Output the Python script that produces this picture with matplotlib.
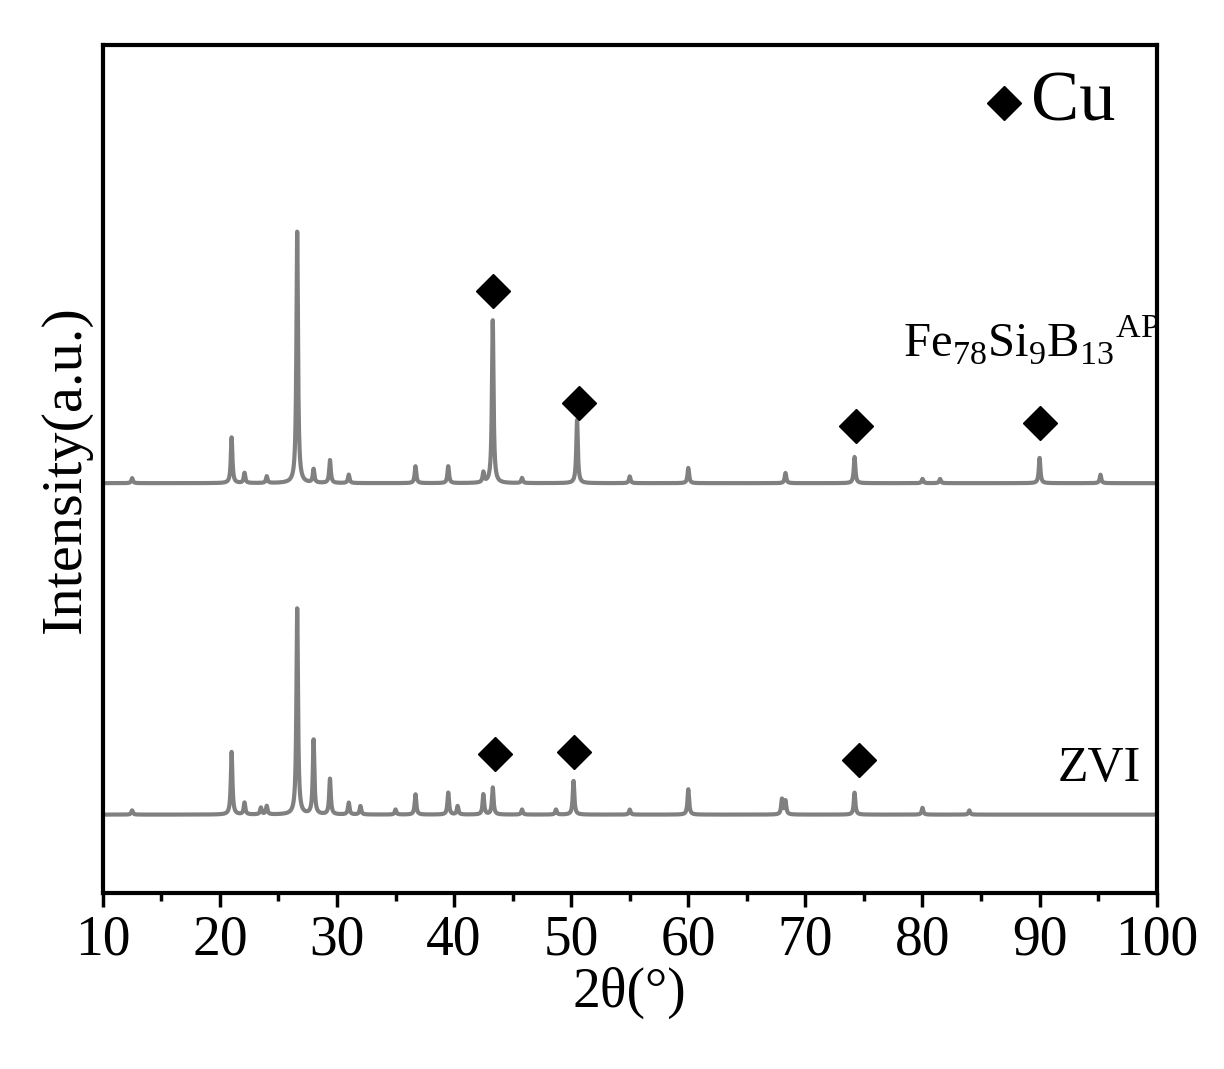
import numpy as np
import matplotlib.pyplot as plt
from matplotlib.ticker import MultipleLocator

plt.rcParams['font.family'] = ['Liberation Serif', 'DejaVu Serif']
plt.rcParams['mathtext.fontset'] = 'custom'
plt.rcParams['mathtext.rm'] = 'Liberation Serif'

# peak positions (2theta) and heights
ap_pos = [12.5, 21.0, 22.1, 24.0, 26.6, 28.0, 29.4, 31.0, 36.7, 39.5, 42.5, 43.3, 45.8,
          50.5, 55.0, 60.0, 68.3, 74.2, 80.0, 81.5, 90.0, 95.2]
ap_hgt = [0.6, 5.4, 1.2, 0.8, 29.9, 1.6, 2.7, 1.0, 2.0, 2.0, 1.2, 19.3, 0.6,
          7.5, 0.8, 1.8, 1.2, 3.1, 0.5, 0.5, 3.0, 1.0]
ap_base = 48.3

zvi_pos = [12.5, 21.0, 22.1, 23.5, 24.0, 26.6, 28.0, 29.4, 31.0, 32.0, 35.0, 36.7, 39.5,
           40.3, 42.5, 43.3, 45.8, 48.7, 50.2, 55.0, 60.0, 68.0, 68.3, 74.2, 80.0, 84.0]
zvi_hgt = [0.5, 7.4, 1.4, 0.8, 1.0, 24.5, 8.8, 4.2, 1.4, 1.0, 0.6, 2.4, 2.6,
           1.0, 2.4, 3.2, 0.6, 0.6, 4.0, 0.6, 3.0, 1.8, 1.6, 2.6, 0.8, 0.5]
zvi_base = 9.2

ap_cu = [(43.3, 71.0), (50.7, 57.7), (74.3, 55.0), (90.0, 55.4)]
zvi_cu = [(43.5, 16.3), (50.2, 16.6), (74.6, 15.7)]

theta = np.linspace(10, 100, 6000)


def pattern(pos, hgt, base):
    y = np.full_like(theta, base)
    for p, h in zip(pos, hgt):
        y += h / (1 + ((theta - p) / 0.08) ** 2)
    return y


fig = plt.figure(figsize=(12.24, 10.69), dpi=100)
ax = fig.add_axes([0.084, 0.165, 0.861, 0.793])

ax.plot(theta, pattern(ap_pos, ap_hgt, ap_base), color='#808080', lw=3)
ax.plot(theta, pattern(zvi_pos, zvi_hgt, zvi_base), color='#808080', lw=3)

for x, y in ap_cu + zvi_cu:
    ax.plot(x, y, marker='D', color='black', ms=17, ls='none')

ax.plot(87.0, 93.2, marker='D', color='black', ms=17)
ax.text(89.3, 93.2, 'Cu', fontsize=52, va='center', ha='left')
ax.text(78.3, 65.2, r'Fe$_{78}$Si$_{9}$B$_{13}$$^{\mathrm{AP}}$', fontsize=35, va='center')
ax.text(91.5, 14.6, 'ZVI', fontsize=36, va='center')

ax.set_xlim(10, 100)
ax.set_ylim(0, 100)
ax.xaxis.set_major_locator(MultipleLocator(10))
ax.xaxis.set_minor_locator(MultipleLocator(5))
ax.tick_params(axis='x', which='major', direction='out', length=10, width=2.5, labelsize=40, pad=6)
ax.tick_params(axis='x', which='minor', direction='out', length=6, width=2.5)
ax.set_yticks([])
for s in ax.spines.values():
    s.set_linewidth(3)

ax.set_xlabel('2θ(°)', fontsize=40, labelpad=0)
ax.set_ylabel('Intensity(a.u.)', fontsize=42, labelpad=8)

fig.savefig('out.png', dpi=100)
